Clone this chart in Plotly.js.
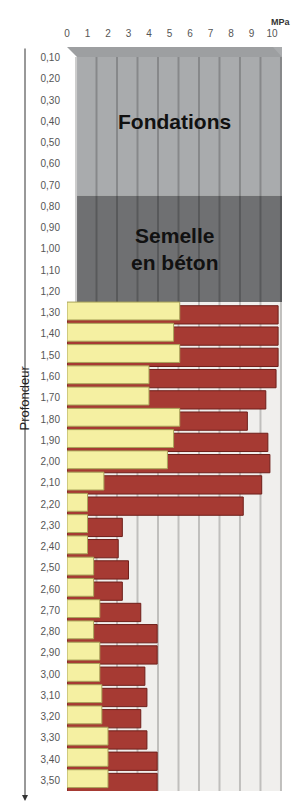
<!DOCTYPE html>
<html>
<head>
<meta charset="utf-8">
<script src="https://cdn.plot.ly/plotly-3.0.1.min.js"></script>
<style>
html,body{margin:0;padding:0;background:#fff;}
#chart{width:305px;height:805px;}
</style>
</head>
<body>
<div id="chart"></div>
<script>
// Depth categories (m)
var depths = ["0,10","0,20","0,30","0,40","0,50","0,60","0,70","0,80","0,90","1,00","1,10","1,20",
  "1,30","1,40","1,50","1,60","1,70","1,80","1,90","2,00","2,10","2,20","2,30","2,40","2,50",
  "2,60","2,70","2,80","2,90","3,00","3,10","3,20","3,30","3,40","3,50"];
// Measured depths (below the foundation)
var measuredDepths = ["1,30","1,40","1,50","1,60","1,70","1,80","1,90","2,00","2,10","2,20","2,30","2,40",
  "2,50","2,60","2,70","2,80","2,90","3,00","3,10","3,20","3,30","3,40","3,50"];
// Red series (MPa)
var redValues = [10.3,10.3,10.3,10.2,9.7,8.8,9.8,9.9,9.5,8.6,2.7,2.5,3.0,2.7,3.6,4.4,4.4,3.8,3.9,3.6,3.9,4.4,4.4];
// Yellow series (MPa)
var yellowValues = [5.5,5.2,5.5,4.0,4.0,5.5,5.2,4.9,1.8,1.0,1.0,1.0,1.3,1.3,1.6,1.3,1.6,1.6,1.7,1.7,2.0,2.0,2.0];
// Zones above the measurements
var zoneLabels = ["Fondations","Semelle<br>en béton"];
var zoneFrom = ["0,10","0,80"];
var zoneTo = ["0,70","1,20"];
var zoneMid = ["0,40","1,00"];
var zoneColors = ["#a9abad","#6f7072"];
// X ticks
var xTicks = [0,1,2,3,4,5,6,7,8,9,10];

var XMAX = 10.49;
var BACK = 0.49; // depth offset of back wall in x units
var N = depths.length;
var TOP = -0.5, BOTTOM = N - 0.5;
var DEPTH = 0.47; // top face thickness in category units (~10px)

var traces = [
  {type:'bar', orientation:'h', y:measuredDepths, x:redValues,
   marker:{color:'#a63a33', line:{color:'#6e1f1a', width:1}},
   width:0.86, offset:-0.33, hoverinfo:'skip', name:'rouge'},
  {type:'bar', orientation:'h', y:measuredDepths, x:yellowValues,
   marker:{color:'#f5f0a2', line:{color:'#a9a45a', width:1}},
   width:0.84, offset:-0.5, hoverinfo:'skip', name:'jaune'}
];

var shapes = [];
var annotations = [];
// back wall
shapes.push({type:'rect', layer:'below', xref:'x', yref:'y', x0:BACK, x1:XMAX, y0:TOP, y1:BOTTOM,
  fillcolor:'#f0efed', line:{width:0}});
for (var i=0;i<zoneLabels.length;i++){
  var a = depths.indexOf(zoneFrom[i]) - 0.5;
  var b = depths.indexOf(zoneTo[i]) + 0.5;
  shapes.push({type:'rect', layer:'below', xref:'x', yref:'y', x0:BACK, x1:XMAX, y0:a, y1:b,
    fillcolor:zoneColors[i], line:{width:0}});
  annotations.push({xref:'paper', yref:'y', x:0.5, y:zoneMid[i], text:zoneLabels[i], showarrow:false,
    font:{family:'Liberation Sans, Arial, sans-serif', size:21, color:'#111', weight:'bold'}});
}
// back-wall gridlines
xTicks.forEach(function(t){
  shapes.push({type:'line', layer:'below', xref:'x', yref:'y', x0:t+BACK-0.05, x1:t+BACK-0.05, y0:TOP+DEPTH, y1:BOTTOM,
    line:{color:'rgba(0,0,0,0.2)', width:2}});
});
// top face of the block
shapes.push({type:'path', layer:'between', xref:'x', yref:'y',
  path:'M 0 '+TOP+' L 10.05 '+TOP+' L '+XMAX+' '+(TOP+DEPTH)+' L '+BACK+' '+(TOP+DEPTH)+' Z',
  fillcolor:'#9d9fa1', line:{width:0}});

// Depth arrow
annotations.push({xref:'paper', yref:'paper', x:(25-67)/215, y:(791-801)/744, ax:0, ay:-754,
  text:'', showarrow:true, arrowhead:2, arrowsize:1.2, arrowwidth:1, arrowcolor:'#333'});
// Axis title
annotations.push({xref:'paper', yref:'paper', x:(14-67)/215, y:(791-398)/744, text:'Profondeur',
  textangle:-90, showarrow:false, font:{family:'Liberation Sans, Arial, sans-serif', size:13, color:'#222'}});
// Unit
annotations.push({xref:'paper', yref:'paper', x:(293-67)/215, y:(791-15)/744, text:'MPa',
  showarrow:false, font:{family:'Liberation Sans, Arial, sans-serif', size:9, color:'#333', weight:'bold'}});

var layout = {
  width:305, height:805,
  margin:{l:67, r:23, t:47, b:14},
  paper_bgcolor:'#ffffff', plot_bgcolor:'#ffffff',
  showlegend:false,
  barmode:'overlay',
  xaxis:{side:'top', range:[0,XMAX], tickvals:xTicks, ticktext:xTicks.map(String), showgrid:false,
    zeroline:false, showline:false, ticks:'', ticklabelstandoff:7,
    tickfont:{family:'Liberation Sans, Arial, sans-serif', size:10, color:'#555'}},
  yaxis:{type:'category', categoryorder:'array', categoryarray:depths, tickvals:depths, range:[BOTTOM,TOP],
    showgrid:false, zeroline:false, showline:false, ticks:'', ticklabelstandoff:6,
    tickfont:{family:'Liberation Sans, Arial, sans-serif', size:10, color:'#555'}},
  shapes:shapes,
  annotations:annotations
};

Plotly.newPlot('chart', traces, layout, {displayModeBar:false, staticPlot:true});
</script>
</body>
</html>
